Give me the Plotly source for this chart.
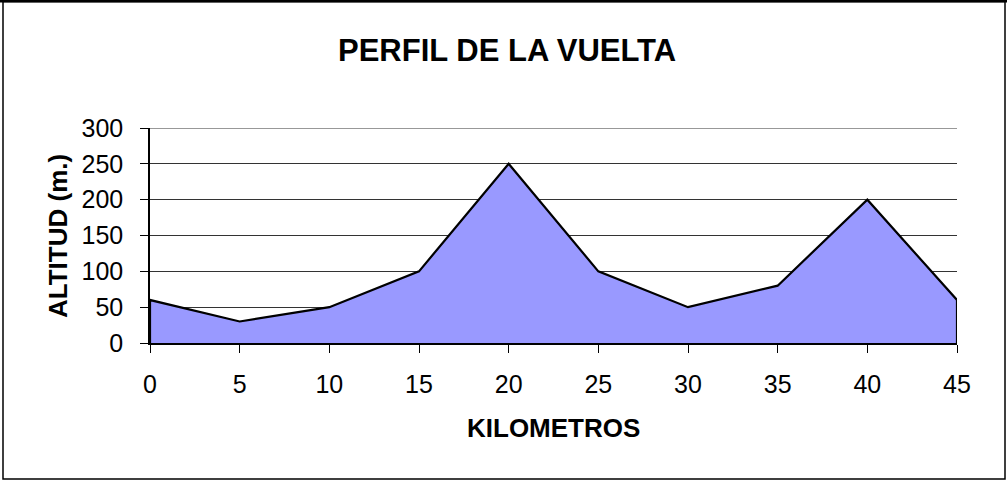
import plotly.graph_objects as go

km = [0, 5, 10, 15, 20, 25, 30, 35, 40, 45]
altitud = [60, 30, 50, 100, 250, 100, 50, 80, 200, 60]
y_ticks = [0, 50, 100, 150, 200, 250, 300]

W, H = 1007, 481
L, R, T, B = 150, 50, 128, 138
pw, ph = W - L - R, H - T - B

# closed polygon: base at 0 on both ends
xs = [km[0]] + km + [km[-1]]
ys = [0] + altitud + [0]

fig = go.Figure()
fig.add_trace(go.Scatter(
    x=xs, y=ys, mode="lines", fill="toself",
    fillcolor="#9999FF", line=dict(color="black", width=2.2),
    hoverinfo="skip", showlegend=False,
))

font = "Liberation Sans, Arial, sans-serif"


def px_x(p):
    return (p - L) / pw


def px_y(p):
    return (H - B - p) / ph


fig.update_layout(
    width=W, height=H,
    margin=dict(l=L, r=R, t=T, b=B),
    paper_bgcolor="white", plot_bgcolor="white",
    font=dict(family=font, size=25, color="black"),
    xaxis=dict(range=[0, 45], tickvals=km, ticktext=[str(k) for k in km],
               showgrid=False, zeroline=False, showline=True, linecolor="black",
               linewidth=2, ticks="outside", ticklen=8, tickcolor="black",
               tickwidth=1.2, tickfont=dict(size=25), ticklabelstandoff=10,
               fixedrange=True),
    yaxis=dict(range=[0, 300], tickvals=y_ticks, showgrid=True, gridcolor="#333333",
               gridwidth=1, zeroline=False, showline=True, linecolor="black",
               linewidth=1.5, ticks="outside", ticklen=8, tickcolor="black",
               tickwidth=1.2, tickfont=dict(size=25), ticklabelstandoff=12,
               fixedrange=True),
    annotations=[
        dict(text="<b>PERFIL DE LA VUELTA</b>", xref="paper", yref="paper",
             x=px_x(507), y=px_y(50), xanchor="center", yanchor="middle",
             showarrow=False, font=dict(size=31, family=font, color="black")),
        dict(text="<b>ALTITUD (m.)</b>", textangle=-90, xref="paper", yref="paper",
             x=px_x(58), y=px_y(236), xanchor="center", yanchor="middle",
             showarrow=False, font=dict(size=26, family=font, color="black")),
        dict(text="<b>KILOMETROS</b>", xref="paper", yref="paper",
             x=px_x(553), y=px_y(428), xanchor="center", yanchor="middle",
             showarrow=False, font=dict(size=26, family=font, color="black")),
    ],
    shapes=[
        dict(type="rect", xref="paper", yref="paper",
             x0=px_x(3), x1=px_x(1005), y0=px_y(479), y1=px_y(1.5),
             line=dict(color="black", width=1.5), layer="below"),
        dict(type="line", xref="paper", yref="paper",
             x0=px_x(0), x1=px_x(1007), y0=px_y(1), y1=px_y(1),
             line=dict(color="black", width=3), layer="below"),
        # top gridline (at the range edge, which plotly omits)
        dict(type="line", xref="paper", yref="y",
             x0=0, x1=1, y0=y_ticks[-1], y1=y_ticks[-1],
             line=dict(color="#333333", width=1), layer="below"),
    ],
)

fig.write_html("out.html", config={"displayModeBar": False},
               post_script="document.body.style.margin='0';")
